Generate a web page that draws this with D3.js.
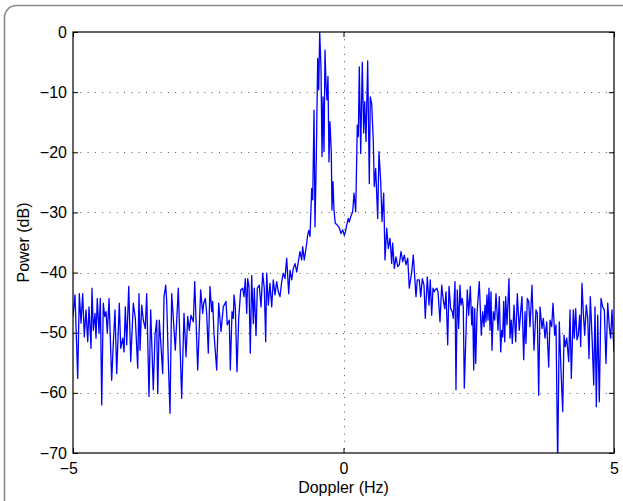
<!DOCTYPE html>
<html>
<head>
<meta charset="utf-8">
<script src="https://cdn.jsdelivr.net/npm/d3@7/dist/d3.min.js"></script>
<style>
  html, body { margin: 0; padding: 0; background: #fff; }
  svg { display: block; font-family: "Liberation Sans", Arial, Helvetica, sans-serif; }
</style>
</head>
<body>
<svg id="chart" width="623" height="501"></svg>
<script>
// Doppler spectrum: frequency samples (Hz) and received power (dB)
const doppler = [
  -5.000, -4.963, -4.913, -4.883, -4.852, -4.821, -4.791, -4.760, -4.728, -4.704,
  -4.667, -4.649, -4.625, -4.593, -4.575, -4.551, -4.519, -4.495, -4.469, -4.440,
  -4.414, -4.390, -4.366, -4.334, -4.285, -4.255, -4.224, -4.192, -4.144, -4.118,
  -4.081, -4.057, -4.033, -4.007, -3.970, -3.933, -3.885, -3.848, -3.804, -3.780,
  -3.761, -3.730, -3.700, -3.664, -3.638, -3.595, -3.564, -3.516, -3.484, -3.453,
  -3.434, -3.405, -3.373, -3.342, -3.318, -3.286, -3.268, -3.238, -3.207, -3.176,
  -3.146, -3.109, -3.054, -2.991, -2.948, -2.911, -2.880, -2.850, -2.819, -2.776,
  -2.750, -2.695, -2.640, -2.603, -2.584, -2.554, -2.529, -2.499, -2.468, -2.436,
  -2.418, -2.394, -2.344, -2.307, -2.264, -2.222, -2.172, -2.148, -2.111, -2.092,
  -2.061, -2.037, -2.024, -2.000, -1.969, -1.937, -1.900, -1.863, -1.839, -1.815,
  -1.789, -1.771, -1.747, -1.723, -1.697, -1.667, -1.649, -1.617, -1.593, -1.556,
  -1.525, -1.494, -1.464, -1.438, -1.420, -1.390, -1.359, -1.327, -1.298, -1.266,
  -1.235, -1.205, -1.174, -1.142, -1.113, -1.081, -1.050, -1.013, -0.989, -0.957,
  -0.928, -0.896, -0.865, -0.835, -0.804, -0.773, -0.754, -0.725, -0.693, -0.662,
  -0.643, -0.619, -0.588, -0.569, -0.545, -0.527, -0.503, -0.477, -0.458, -0.440,
  -0.416, -0.397, -0.379, -0.360, -0.342, -0.323, -0.305, -0.287, -0.268, -0.250,
  -0.226, -0.213, -0.194, -0.176, -0.152, -0.115, -0.089, -0.065, -0.046, -0.015,
   0.015,  0.037,  0.059,  0.089,  0.107,  0.133,  0.170,  0.194,  0.226,  0.255,
   0.274,  0.292,  0.318,  0.347,  0.373,  0.392,  0.416,  0.447,  0.477,  0.495,
   0.521,  0.551,  0.569,  0.595,  0.632,  0.656,  0.688,  0.712,  0.743,  0.767,
   0.799,  0.828,  0.860,  0.891,  0.909,  0.939,  0.970,  1.002,  1.031,  1.063,
   1.094,  1.124,  1.155,  1.187,  1.216,  1.261,  1.290,  1.340,  1.364,  1.401,
   1.427,  1.457,  1.488,  1.512,  1.549,  1.580,  1.604,  1.630,  1.654,  1.678,
   1.691,  1.723,  1.747,  1.784,  1.815,  1.845,  1.871,  1.895,  1.926,  1.950,
   1.981,  2.011,  2.030,  2.061,  2.079,  2.103,  2.129,  2.153,  2.172,  2.196,
   2.214,  2.233,  2.264,  2.288,  2.314,  2.344,  2.370,  2.388,  2.407,  2.425,
   2.444,  2.468,  2.510,  2.547,  2.573,  2.597,  2.616,  2.634,  2.652,  2.671,
   2.689,  2.708,  2.726,  2.745,  2.769,  2.795,  2.819,  2.856,  2.880,  2.906,
   2.924,  2.943,  2.961,  2.980,  2.998,  3.022,  3.059,  3.078,  3.102,  3.120,
   3.152,  3.183,  3.213,  3.249,  3.275,  3.299,  3.331,  3.355,  3.373,  3.397,
   3.423,  3.447,  3.484,  3.521,  3.558,  3.582,  3.608,  3.632,  3.669,  3.693,
   3.725,  3.756,  3.793,  3.817,  3.848,  3.872,  3.904,  3.928,  3.959,  3.989,
   4.020,  4.052,  4.076,  4.100,  4.126,  4.163,  4.187,  4.211,  4.248,  4.266,
   4.292,  4.316,  4.340,  4.366,  4.384,  4.408,  4.432,  4.458,  4.488,  4.514,
   4.538,  4.562,  4.593,  4.625,  4.649,  4.673,  4.699,  4.728,  4.760,  4.791,
   4.821,  4.852,  4.884,  4.913,  4.939,  4.963,  5.000
];
const power = [
  -47.3, -43.7, -57.6, -43.5, -48.4, -43.5, -50.7, -46.2, -51.5, -45.7,
  -52.6, -42.6, -49.6, -46.8, -50.9, -44.3, -50.1, -44.3, -62.0, -45.1,
  -47.3, -46.5, -50.1, -44.3, -57.9, -51.8, -46.2, -56.8, -45.1, -52.6,
  -50.9, -53.2, -45.7, -52.0, -42.3, -54.8, -45.1, -47.6, -55.9, -43.5,
  -52.9, -45.4, -47.9, -49.3, -43.5, -60.6, -46.2, -59.5, -50.4, -47.9,
  -60.1, -47.9, -52.3, -56.8, -44.0, -42.1, -44.8, -54.8, -63.4, -43.5,
  -47.6, -52.9, -42.6, -60.9, -46.8, -54.0, -47.3, -49.6, -47.1, -48.2,
  -41.5, -56.2, -42.9, -46.8, -45.1, -44.3, -46.8, -53.4, -42.3, -46.5,
  -44.8, -50.1, -56.2, -45.1, -49.8, -45.7, -44.8, -48.7, -47.9, -56.2,
  -46.5, -47.6, -43.7, -45.7, -56.5, -47.6, -42.9, -42.6, -44.0, -41.0,
  -46.8, -41.0, -42.3, -53.4, -40.5, -48.5, -42.6, -50.5, -42.6, -42.1,
  -45.7, -40.1, -42.6, -51.5, -40.1, -45.4, -41.8, -45.7, -41.2, -43.7,
  -41.5, -43.2, -44.0, -41.5, -40.1, -41.0, -37.6, -43.5, -39.6, -41.2,
  -39.3, -38.5, -39.9, -38.2, -36.5, -37.9, -35.7, -37.9, -36.0, -33.8,
  -33.0, -34.0, -26.0, -27.9, -13.0, -32.4, -21.0, -4.4, -9.6, 0.0,
  -6.0, -20.7, -10.8, -19.9, -3.0, -8.8, -11.3, -7.4, -21.6, -14.9,
  -19.9, -29.6, -24.9, -29.6, -31.8, -32.1, -32.4, -32.9, -33.5, -32.9,
  -33.8, -33.2, -32.1, -31.0, -31.6, -30.7, -29.9, -26.8, -29.9, -15.5,
  -17.4, -5.8, -20.2, -5.0, -16.8, -11.6, -18.2, -4.8, -25.2, -10.8,
  -11.9, -18.2, -25.7, -22.7, -31.0, -19.9, -24.9, -31.5, -26.8, -37.9,
  -32.6, -36.0, -34.3, -38.5, -35.1, -39.3, -37.4, -39.0, -38.7, -36.5,
  -38.2, -37.1, -38.7, -37.6, -42.6, -39.9, -37.1, -44.0, -41.2, -41.2,
  -44.0, -41.0, -42.1, -47.6, -40.7, -45.4, -41.2, -47.1, -42.6, -43.2,
  -42.9, -42.6, -43.2, -48.2, -42.1, -44.6, -46.0, -43.2, -52.0, -42.3,
  -46.0, -46.5, -47.6, -41.5, -59.5, -42.9, -49.3, -42.1, -45.4, -44.3,
  -45.7, -59.2, -50.1, -42.9, -47.1, -42.3, -48.7, -45.7, -56.2, -46.0,
  -55.1, -46.8, -41.5, -50.4, -46.5, -49.0, -45.4, -48.2, -43.7, -47.9,
  -42.6, -49.6, -43.2, -52.9, -46.5, -47.9, -43.5, -49.6, -44.0, -53.2,
  -49.6, -50.7, -44.8, -51.5, -44.0, -48.7, -41.0, -50.9, -47.9, -51.8,
  -45.4, -51.5, -43.5, -49.6, -46.5, -44.0, -54.5, -46.5, -51.8, -44.3,
  -44.8, -49.0, -42.1, -52.9, -46.2, -46.8, -60.4, -45.7, -49.3, -47.6,
  -50.9, -48.2, -55.7, -47.9, -49.0, -45.1, -50.4, -48.7, -72.0, -48.2,
  -56.2, -63.1, -50.4, -52.3, -50.9, -54.8, -46.2, -57.6, -46.2, -50.9,
  -46.0, -51.2, -50.4, -47.1, -52.3, -41.8, -46.5, -50.4, -45.4, -47.6,
  -54.3, -44.0, -50.4, -58.7, -45.7, -62.3, -47.1, -61.5, -44.3, -45.7,
  -46.2, -55.1, -45.1, -49.0, -50.9, -46.2, -53.2
];

const xTicks = [-5, 0, 5];
const yTicks = [0, -10, -20, -30, -40, -50, -60, -70];
const xLabel = "Doppler (Hz)";
const yLabel = "Power (dB)";

const W = 623, H = 501;
const plot = { left: 73, right: 614, top: 32, bottom: 453 };

const svg = d3.select("#chart");

// rounded figure frame, running off the right and bottom edges
svg.append("rect")
  .attr("x", 4.5).attr("y", 5.5)
  .attr("width", 760).attr("height", 620)
  .attr("rx", 12).attr("ry", 12)
  .attr("fill", "none")
  .attr("stroke", "#8a8a8a")
  .attr("stroke-width", 1.6);

const x = d3.scaleLinear().domain([-5, 5]).range([plot.left, plot.right]);
const y = d3.scaleLinear().domain([-70, 0]).range([plot.bottom, plot.top]);

// dotted grid
const grid = svg.append("g")
  .attr("stroke", "#555")
  .attr("stroke-width", 1)
  .attr("stroke-dasharray", "1,6.3");
grid.selectAll("line.gy").data(yTicks.filter(v => v > -70 && v < 0)).join("line")
  .attr("class", "gy")
  .attr("x1", plot.left).attr("x2", plot.right)
  .attr("y1", d => Math.round(y(d)) + 0.5).attr("y2", d => Math.round(y(d)) + 0.5);
grid.selectAll("line.gx").data(xTicks.filter(v => v > -5 && v < 5)).join("line")
  .attr("class", "gx")
  .attr("y1", plot.top).attr("y2", plot.bottom)
  .attr("x1", d => Math.round(x(d)) + 0.5).attr("x2", d => Math.round(x(d)) + 0.5);

// spectrum trace, clipped to the axes box
svg.append("clipPath").attr("id", "plotClip")
  .append("rect")
  .attr("x", plot.left).attr("y", plot.top)
  .attr("width", plot.right - plot.left).attr("height", plot.bottom - plot.top);

const series = doppler.map((f, i) => [f, power[i]]);
const line = d3.line().x(d => x(d[0])).y(d => y(d[1]));

svg.append("path")
  .datum(series)
  .attr("clip-path", "url(#plotClip)")
  .attr("fill", "none")
  .attr("stroke", "#0000ff")
  .attr("stroke-width", 1.3)
  .attr("stroke-linejoin", "round")
  .attr("d", line);

// axes: inward ticks on all four sides
const fontSize = 16;
const axL = svg.append("g").attr("transform", `translate(${plot.left},0)`)
  .call(d3.axisLeft(y).tickValues(yTicks).tickSize(-5).tickPadding(6).tickFormat(d3.format("d")));
const axR = svg.append("g").attr("transform", `translate(${plot.right},0)`)
  .call(d3.axisRight(y).tickValues(yTicks).tickSize(-5).tickFormat(""));
const axB = svg.append("g").attr("transform", `translate(0,${plot.bottom})`)
  .call(d3.axisBottom(x).tickValues(xTicks).tickSize(-5).tickPadding(10).tickFormat(d3.format("d")));
const axT = svg.append("g").attr("transform", `translate(0,${plot.top})`)
  .call(d3.axisTop(x).tickValues(xTicks).tickSize(-5).tickFormat(""));

[axL, axR, axB, axT].forEach(g => {
  g.select(".domain").remove();
  g.selectAll(".tick line").attr("stroke", "#000");
  g.selectAll("text")
    .attr("fill", "#000")
    .style("font-size", fontSize + "px")
    .style("font-family", '"Liberation Sans", Arial, Helvetica, sans-serif');
});
// negative x labels hang the minus sign to the left of the tick
axB.selectAll(".tick text").attr("dx", d => d < 0 ? "-0.29em" : null);

// axes box
svg.append("rect")
  .attr("x", plot.left).attr("y", plot.top)
  .attr("width", plot.right - plot.left).attr("height", plot.bottom - plot.top)
  .attr("fill", "none").attr("stroke", "#000").attr("stroke-width", 1.2);

// axis titles
svg.append("text")
  .attr("x", (plot.left + plot.right) / 2).attr("y", 493)
  .attr("text-anchor", "middle")
  .style("font-size", fontSize + "px")
  .text(xLabel);
svg.append("text")
  .attr("transform", `translate(29,${(plot.top + plot.bottom) / 2}) rotate(-90)`)
  .attr("text-anchor", "middle")
  .style("font-size", fontSize + "px")
  .text(yLabel);
</script>
</body>
</html>
